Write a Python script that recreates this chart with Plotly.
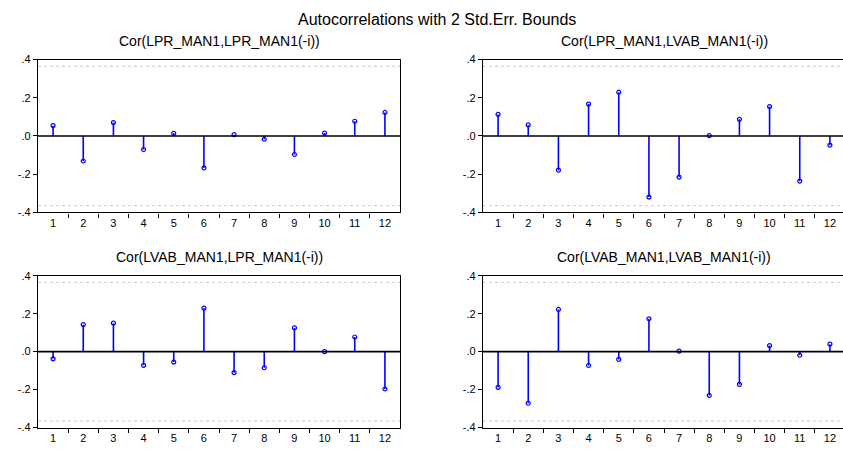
import plotly.graph_objects as go

lags = list(range(1, 13))
tick_labels = [str(i) for i in lags]
ytick_vals = [-0.4, -0.2, 0.0, 0.2, 0.4]
ytick_text = ["-.4", "-.2", ".0", ".2", ".4"]
bound = 0.365

titles = [
    "Cor(LPR_MAN1,LPR_MAN1(-i))",
    "Cor(LPR_MAN1,LVAB_MAN1(-i))",
    "Cor(LVAB_MAN1,LPR_MAN1(-i))",
    "Cor(LVAB_MAN1,LVAB_MAN1(-i))",
]
lpr_lpr = [0.054, -0.131, 0.070, -0.071, 0.014, -0.167, 0.007, -0.017, -0.097, 0.015, 0.077, 0.123]
lpr_lvab = [0.113, 0.058, -0.179, 0.167, 0.229, -0.320, -0.215, 0.002, 0.087, 0.154, -0.236, -0.048]
lvab_lpr = [-0.038, 0.142, 0.150, -0.072, -0.055, 0.229, -0.111, -0.085, 0.125, 0.000, 0.077, -0.197]
lvab_lvab = [-0.188, -0.272, 0.222, -0.073, -0.041, 0.173, 0.003, -0.231, -0.173, 0.032, -0.019, 0.039]
series = [lpr_lpr, lpr_lvab, lvab_lpr, lvab_lvab]

W, H = 843, 454
# pixel layout
xdoms = [(38 / W, 400 / W), (483 / W, 1.0)]
ydoms = [(1 - 212 / H, 1 - 55 / H), (1 - 433 / H, 1 - 277 / H)]
xranges = [[0.5, 12.5], [0.5, 12.5 - 2 / 30.2]]

fig = go.Figure()
BLUE = "#0000FF"
font = "Liberation Sans, Arial, sans-serif"

for k, vals in enumerate(series):
    r, c = divmod(k, 2)
    ax = "" if k == 0 else str(k + 1)
    xs, ys = [], []
    for lag, v in zip(lags, vals):
        xs += [lag, lag, None]
        ys += [0, v, None]
    fig.add_trace(go.Scatter(x=xs, y=ys, mode="lines", line=dict(color=BLUE, width=1.6),
                             xaxis="x" + ax, yaxis="y" + ax, hoverinfo="skip", showlegend=False))
    fig.add_trace(go.Scatter(x=lags, y=vals, mode="markers",
                             marker=dict(symbol="circle-open", size=4, color=BLUE, line=dict(width=1.2, color=BLUE)),
                             xaxis="x" + ax, yaxis="y" + ax, showlegend=False))
    for b in (bound, -bound):
        fig.add_shape(type="line", xref="x" + ax + " domain", yref="y" + ax,
                      x0=0, x1=1, y0=b, y1=b, line=dict(color="#c8c8c8", width=1, dash="dot"))
    fig.add_shape(type="line", xref="x" + ax + " domain", yref="y" + ax,
                  x0=0, x1=1, y0=0, y1=0, line=dict(color="black", width=1.6))
    fig.layout["xaxis" + ax] = dict(
        domain=xdoms[c], range=xranges[c], anchor="y" + ax,
        tickvals=lags, ticktext=tick_labels, ticks="",
        minor=dict(tickvals=[l + 0.5 for l in lags[:-1]], ticks="outside", ticklen=4,
                   tickcolor="black", tickwidth=1, showgrid=False),
        showgrid=False, zeroline=False, showline=True, linecolor="black", linewidth=1.3,
        mirror=True, tickfont=dict(family=font, size=11, color="black"), fixedrange=True,
    )
    fig.layout["yaxis" + ax] = dict(
        domain=ydoms[r], range=[-0.4, 0.4], anchor="x" + ax,
        tickvals=ytick_vals, ticktext=ytick_text, ticks="outside", ticklen=4,
        tickcolor="black", showgrid=False, zeroline=False, showline=True,
        linecolor="black", linewidth=1.3, mirror=(c == 0),
        tickfont=dict(family=font, size=11, color="black"), fixedrange=True,
    )
    cx = [219 / W, 664 / W][c]
    cy = [1 - 36 / H, 1 - 258 / H][r]
    fig.add_annotation(text=titles[k], x=cx, y=cy, xref="paper", yref="paper",
                       showarrow=False, xanchor="center", yanchor="middle",
                       font=dict(family=font, size=14, color="black"))

fig.add_annotation(text="Autocorrelations with 2 Std.Err. Bounds", x=437 / W, y=1 - 14 / H,
                   xref="paper", yref="paper", showarrow=False, xanchor="center", yanchor="middle",
                   font=dict(family=font, size=16, color="black"))

fig.update_layout(width=W, height=H, margin=dict(l=0, r=0, t=0, b=0),
                  paper_bgcolor="white", plot_bgcolor="white")
fig.write_html("out.html")
